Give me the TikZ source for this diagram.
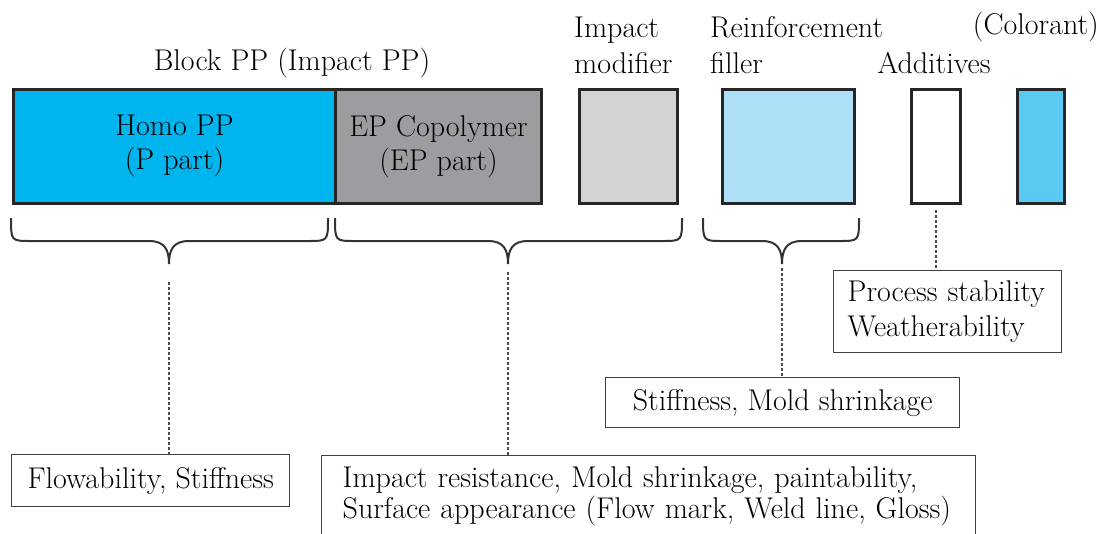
\documentclass[tikz,border=0pt]{standalone}
\usepackage{fontspec}
\definecolor{homoc}{HTML}{00B5EE}
\definecolor{epc}{HTML}{9C9CA1}
\definecolor{imc}{HTML}{D3D3D5}
\definecolor{rfc}{HTML}{AEE1F8}
\definecolor{colc}{HTML}{5BCAF3}
\begin{document}
\begin{tikzpicture}[x=1pt,y=-1pt,
  every node/.style={font=\fontsize{30}{34}\selectfont},
  blk/.style={draw=black!85, line width=3pt, inner sep=0pt, anchor=north west, align=center},
  lab/.style={draw=black!75, line width=1.4pt, anchor=north west, inner sep=0pt},
  brc/.style={draw=black!80, line width=2pt},
  dsh/.style={draw=black!70, line width=1.5pt, dash pattern=on 3pt off 2pt}]
\useasboundingbox (0,0) rectangle (1099,533);
% component blocks
\node[blk, fill=homoc, minimum width=322pt, minimum height=114pt] (homo) at (12,88) {Homo PP\\(P part)};
\node[blk, fill=epc, minimum width=206pt, minimum height=114pt] (ep) at (334,88) {EP Copolymer\\(EP part)};
\node[blk, fill=imc, minimum width=98pt, minimum height=114pt] (im) at (578,88) {};
\node[blk, fill=rfc, minimum width=132pt, minimum height=114pt] (rf) at (721,88) {};
\node[blk, fill=white, minimum width=49pt, minimum height=114pt] (add) at (910,88) {};
\node[blk, fill=colc, minimum width=47pt, minimum height=114pt] (col) at (1016,88) {};
% headings
\node[inner sep=0pt] (tblock) at (292,63) {Block PP (Impact PP)};
\node[inner sep=0pt, anchor=west, align=left, font=\fontsize{30}{36}\selectfont] (tim) at (574,45) {Impact\\modifier};
\node[inner sep=0pt, anchor=west, align=left, font=\fontsize{30}{36}\selectfont] (trf) at (710,45) {Reinforcement\\filler};
\node[inner sep=0pt] (tadd) at (934,63) {Additives};
\node[inner sep=0pt, anchor=east] (tcol) at (1099,27) {(Colorant)};
% braces
\coordinate (b1) at (169,264);
\coordinate (b2) at (508,264);
\coordinate (b3) at (782,264);
\draw[brc] (11,218) .. controls (11,241) .. (31,241) -- (149,241) .. controls (165,241) and (169,250) .. (b1) .. controls (169,250) and (173,241) .. (189,241) -- (308,241) .. controls (328,241) .. (328,218);
\draw[brc] (335,218) .. controls (335,241) .. (355,241) -- (488,241) .. controls (504,241) and (508,250) .. (b2) .. controls (508,250) and (512,241) .. (528,241) -- (662,241) .. controls (682,241) .. (682,218);
\draw[brc] (703,218) .. controls (703,241) .. (723,241) -- (762,241) .. controls (778,241) and (782,250) .. (b3) .. controls (782,250) and (786,241) .. (802,241) -- (839,241) .. controls (859,241) .. (859,218);
% property boxes
\node[lab, minimum width=278pt, minimum height=52pt] (flow) at (11,454) {Flowability, Stiffness};
\node[lab, align=left, inner xsep=21pt, inner ysep=11pt, text width=612pt, font=\fontsize{30}{31}\selectfont] (imp) at (321,455) {\mbox{Impact resistance, Mold shrinkage, paintability,}\\\mbox{Surface appearance (Flow mark, Weld line, Gloss)}};
\node[lab, minimum width=354pt, minimum height=50pt] (stf) at (605,377) {Stiffness, Mold shrinkage};
\node[lab, align=left, inner xsep=14pt, text width=200pt, minimum height=82pt, font=\fontsize{30}{35}\selectfont] (proc) at (833,270) {\mbox{Process stability}\\\mbox{Weatherability}};
% dashed leaders
\draw[dsh, shorten <=18pt] (b1) -- (b1 |- flow.north);
\draw[dsh, shorten <=8pt] (b2) -- (b2 |- imp.north);
\draw[dsh, shorten <=4pt] (b3) -- (b3 |- stf.north);
\draw[dsh, shorten <=5pt] (add.south) -- (add.south |- proc.north);
\end{tikzpicture}
\end{document}
